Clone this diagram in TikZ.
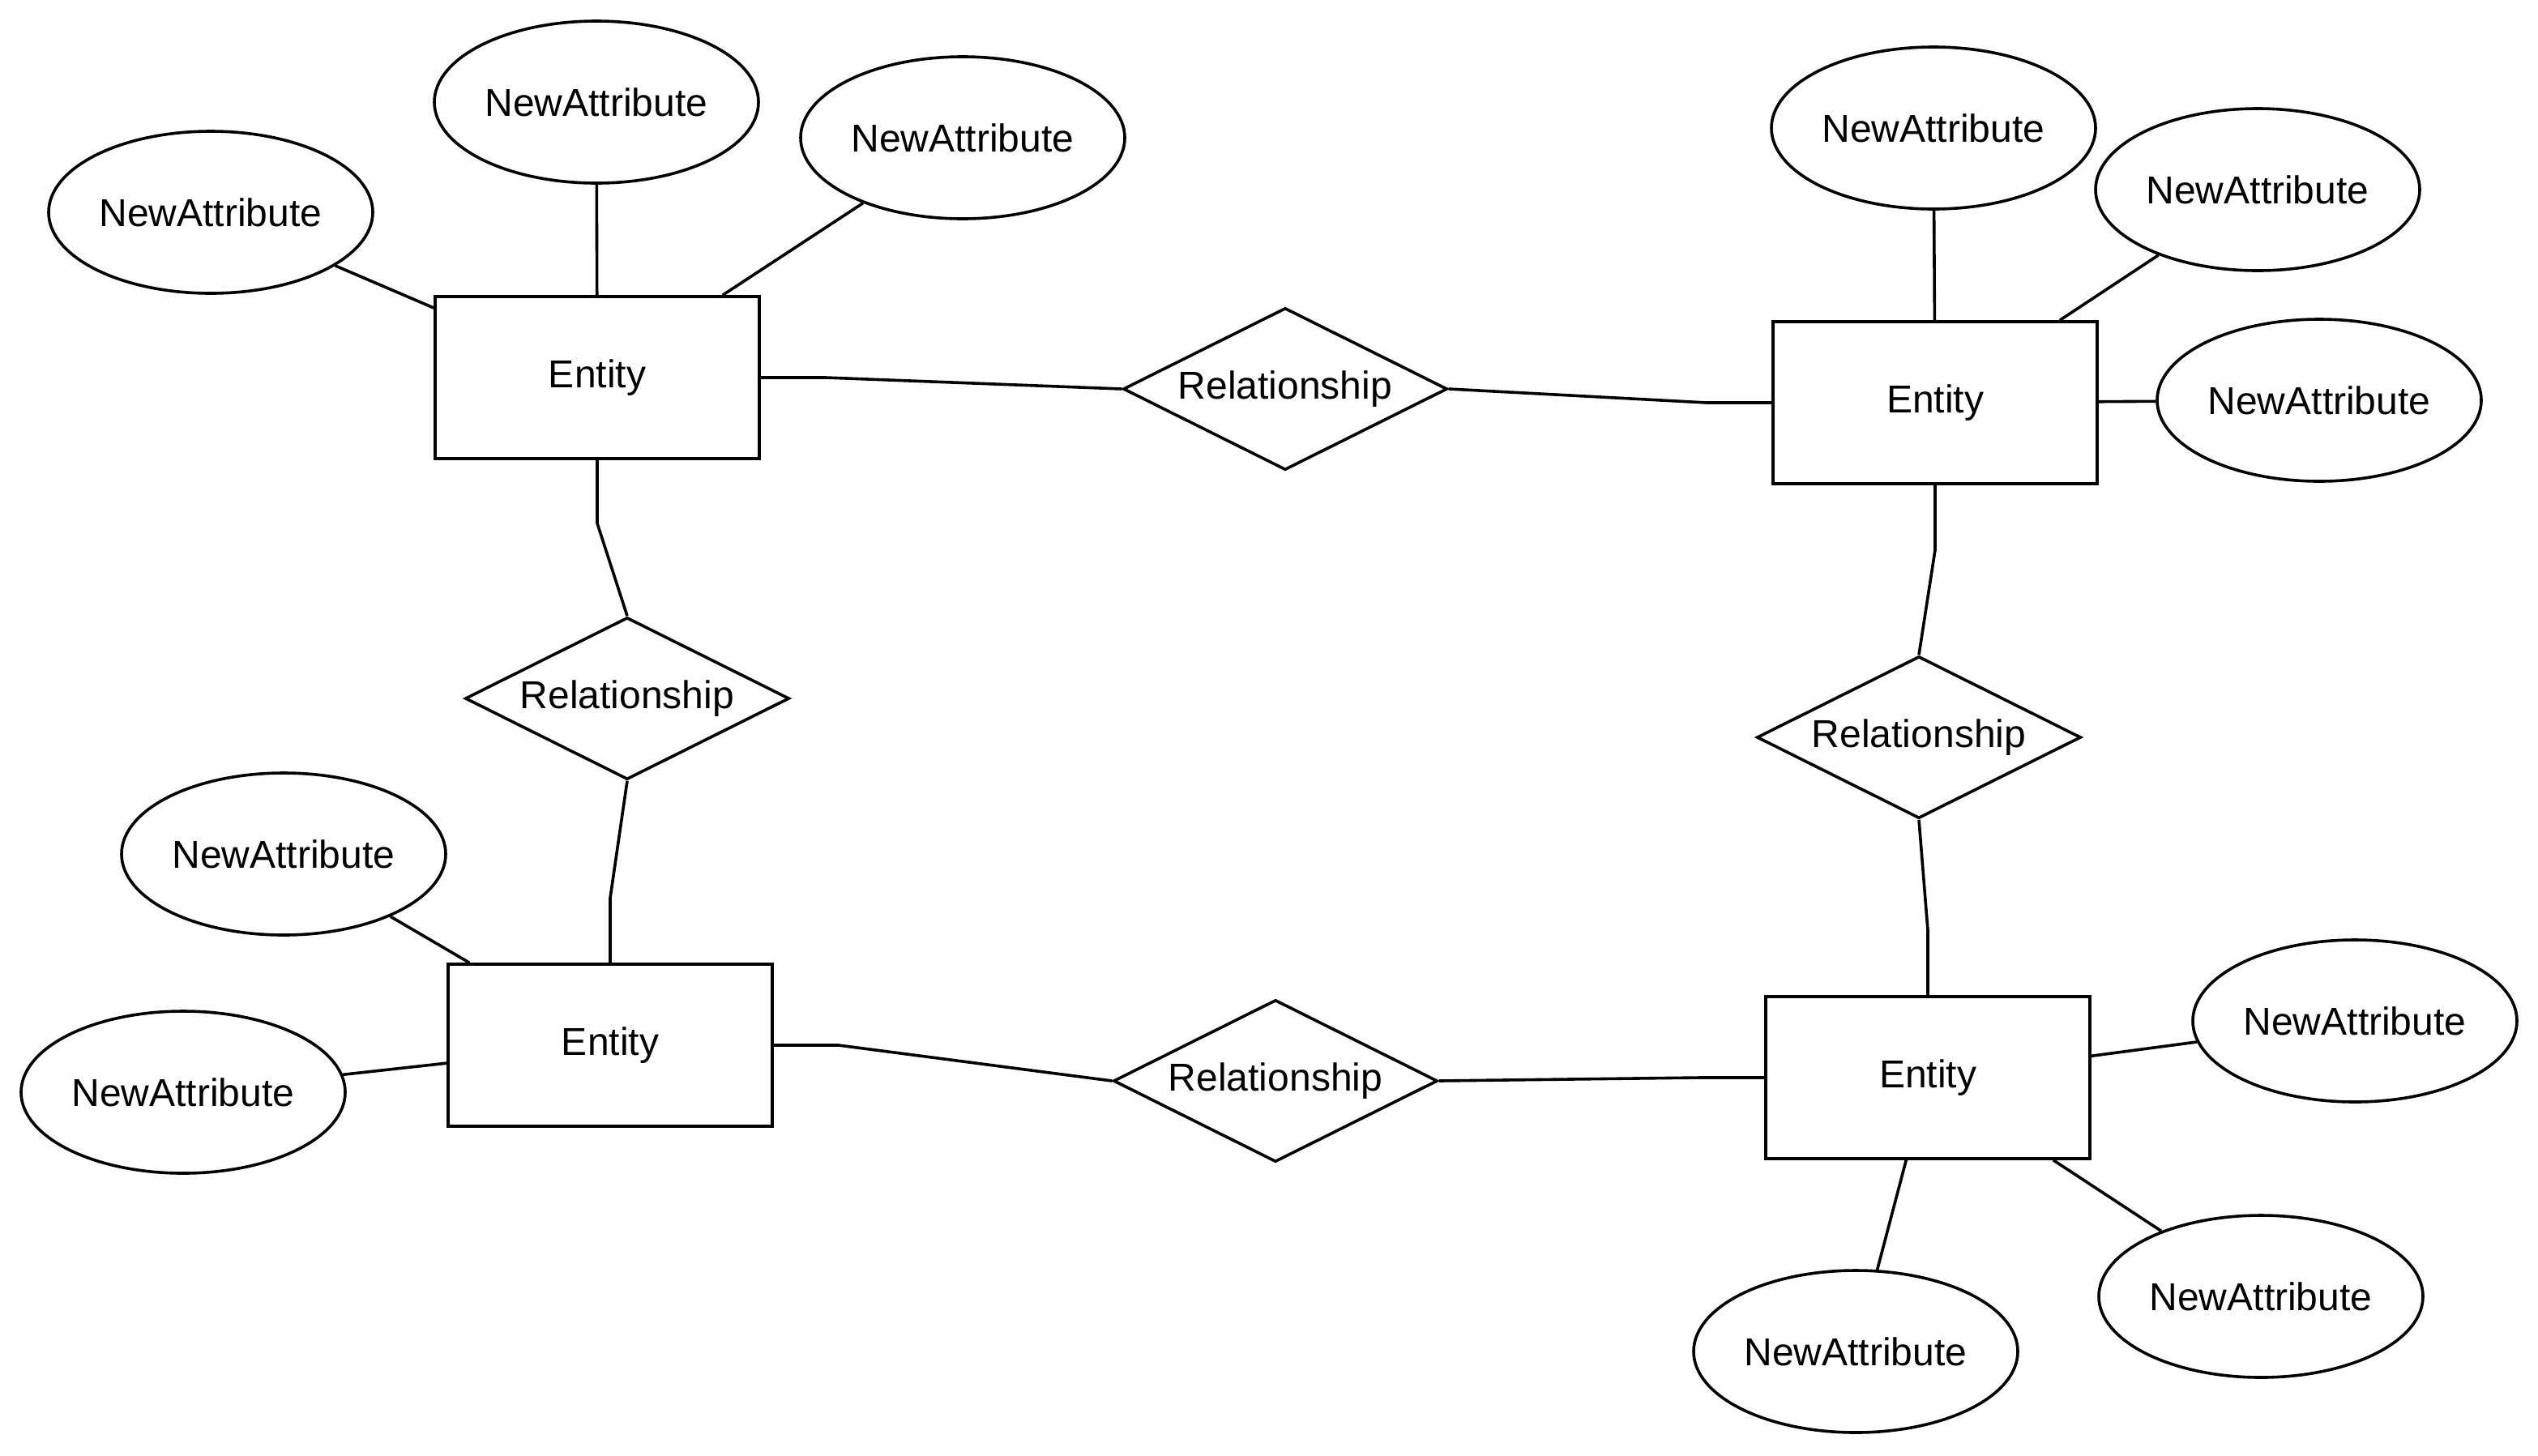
\documentclass[tikz,border=0pt]{standalone}
\usepackage{fontspec}
\setmainfont{Liberation Sans}
\usetikzlibrary{shapes.geometric,calc}
\begin{document}
\begin{tikzpicture}[x=1pt,y=-1pt,line width=1.8pt,
  every node/.style={font=\fontsize{24}{28}\selectfont},
  entity/.style={draw,rectangle,minimum width=200pt,minimum height=100pt,inner sep=0pt},
  attr/.style={draw,ellipse,minimum width=200pt,minimum height=100pt,inner sep=0pt},
  rel/.style={draw,diamond,minimum width=200pt,minimum height=100pt,inner sep=0pt,aspect=2},
  conn/.style={line join=miter}]
\useasboundingbox (0,0) rectangle (1566,898);
% entities
\node[entity] (A) at (368.5,233) {Entity};
\node[entity] (B) at (1194,248.5) {Entity};
\node[entity] (C) at (376.5,645) {Entity};
\node[entity] (D) at (1189.5,665) {Entity};
% relationships
\node[rel] (R1) at (793,240) {Relationship};
\node[rel] (R2) at (387,431) {Relationship};
\node[rel] (R3) at (1184,455) {Relationship};
\node[rel] (R4) at (787,667) {Relationship};
% attributes
\node[attr] (A1) at (130,131) {NewAttribute};
\node[attr] (A2) at (368,63) {NewAttribute};
\node[attr] (A3) at (594,85) {NewAttribute};
\node[attr] (B1) at (1193,79) {NewAttribute};
\node[attr] (B2) at (1393,117) {NewAttribute};
\node[attr] (B3) at (1431,247) {NewAttribute};
\node[attr] (C1) at (175,527) {NewAttribute};
\node[attr] (C2) at (113,674) {NewAttribute};
\node[attr] (D1) at (1453,630) {NewAttribute};
\node[attr] (D2) at (1395,800) {NewAttribute};
\node[attr] (D3) at (1145,834) {NewAttribute};
% attribute links
\draw (A1) -- (A);
\draw (A2) -- (A);
\draw (A3) -- (A);
\draw (B1) -- (B);
\draw (B2) -- (B);
\draw (B3) -- (B);
\draw (C1) -- (C);
\draw (C2) -- (C);
\draw (D1) -- (D);
\draw (D2) -- (D);
\draw (D3) -- (D);
% relationship links
\draw[conn] (A.east) -- ($(A.east)+(40,0)$) -- (R1.west);
\draw[conn] (R1.east) -- ($(B.west)+(-40,0)$) -- (B.west);
\draw[conn] (A.south) -- ($(A.south)+(0,39)$) -- (R2.north);
\draw[conn] (R2.south) -- ($(C.north)+(0,-40)$) -- (C.north);
\draw[conn] (B.south) -- ($(B.south)+(0,40)$) -- (R3.north);
\draw[conn] (R3.south) -- ($(D.north)+(0,-40)$) -- (D.north);
\draw[conn] (C.east) -- ($(C.east)+(40,0)$) -- (R4.west);
\draw[conn] (R4.east) -- ($(D.west)+(-40,0)$) -- (D.west);
\end{tikzpicture}
\end{document}
